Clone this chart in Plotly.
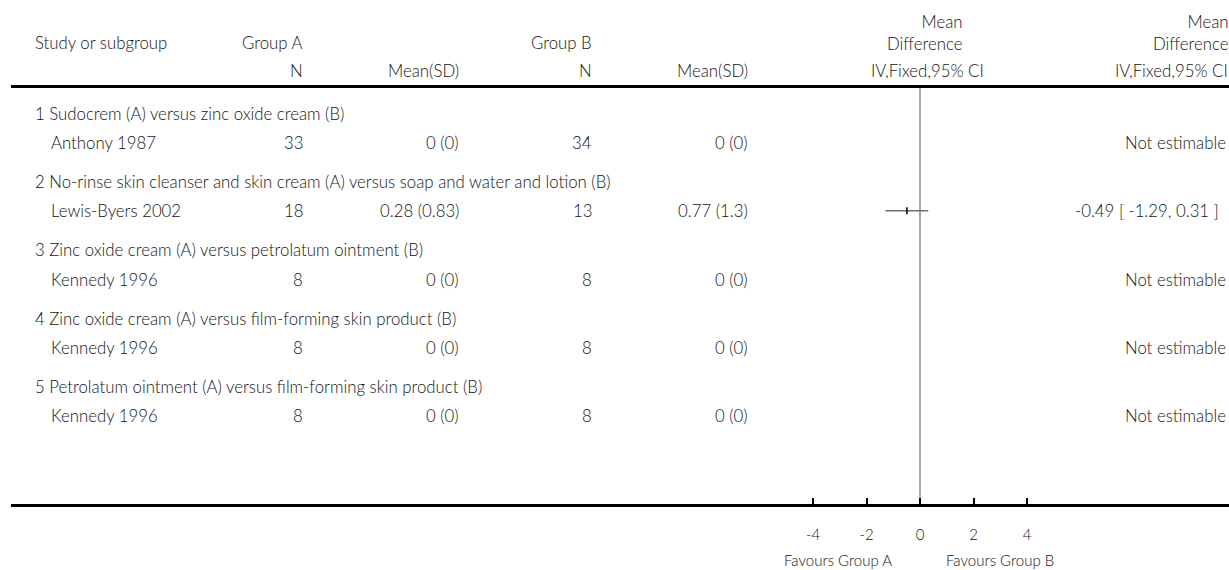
import plotly.graph_objects as go

# ---- data -------------------------------------------------------------
subgroups = [
    "1 Sudocrem (A) versus zinc oxide cream (B)",
    "2 No-rinse skin cleanser and skin cream (A) versus soap and water and lotion (B)",
    "3 Zinc oxide cream (A) versus petrolatum ointment (B)",
    "4 Zinc oxide cream (A) versus film-forming skin product (B)",
    "5 Petrolatum ointment (A) versus film-forming skin product (B)",
]
studies = ["Anthony 1987", "Lewis-Byers 2002", "Kennedy 1996", "Kennedy 1996", "Kennedy 1996"]
n_a = [33, 18, 8, 8, 8]
mean_sd_a = ["0 (0)", "0.28 (0.83)", "0 (0)", "0 (0)", "0 (0)"]
n_b = [34, 13, 8, 8, 8]
mean_sd_b = ["0 (0)", "0.77 (1.3)", "0 (0)", "0 (0)", "0 (0)"]
md = [None, -0.49, None, None, None]
ci_low = [None, -1.29, None, None, None]
ci_high = [None, 0.31, None, None, None]
tick_values = [-4, -2, 0, 2, 4]
tick_labels = ["-4", "-2", "0", "2", "4"]

# ---- page geometry ----------------------------------------------------
W, H = 1229, 570
FONT = "Lato"
TXT = "#141414"
SIZE = 16.8
SMALL = 15


def px(x):
    return x / W


def py(y):
    return 1 - y / H


# each subgroup takes a heading line and a study line
head_y = [7 * i for i in range(len(subgroups))]
study_y = [7 * i + 3 for i in range(len(subgroups))]

fig = go.Figure()

# confidence intervals with point estimates
est_x, est_y, err_plus, err_minus = [], [], [], []
for i in range(len(studies)):
    if md[i] is not None:
        est_x.append(md[i])
        est_y.append(study_y[i])
        err_plus.append(ci_high[i] - md[i])
        err_minus.append(md[i] - ci_low[i])

fig.add_trace(go.Scatter(
    x=est_x, y=est_y, mode="markers",
    marker=dict(symbol="line-ns", size=5, color="black",
                line=dict(color="black", width=1.5)),
    error_x=dict(type="data", symmetric=False, array=err_plus,
                 arrayminus=err_minus, color="#6e6e6e", thickness=1.5, width=0),
    hoverinfo="skip", showlegend=False,
))

ann = []


def text(s, x, y, anchor="left", yref="y", size=SIZE, align=None):
    ann.append(dict(
        text=s, x=px(x), xref="paper", y=y, yref=yref,
        xanchor=anchor, yanchor="middle", showarrow=False,
        align=align or anchor,
        font=dict(family=FONT, size=size, color=TXT, weight=300),
    ))


# column headers
text("Study or subgroup", 33, py(42), yref="paper")
text("Group A", 305, py(42), "right", yref="paper")
text("Group B", 594, py(42), "right", yref="paper")
text("N", 305, py(71), "right", yref="paper")
text("Mean(SD)", 461, py(71), "right", yref="paper")
text("N", 594, py(71), "right", yref="paper")
text("Mean(SD)", 750, py(71), "right", yref="paper")
text("Mean<br>Difference", 964, py(33), "right", yref="paper")
text("IV,Fixed,95% CI", 986, py(71), "right", yref="paper")
text("Mean<br>Difference", 1230, py(33), "right", yref="paper")
text("IV,Fixed,95% CI", 1230, py(71), "right", yref="paper")

# rows
for i in range(len(subgroups)):
    text(subgroups[i], 33, head_y[i])
    text(studies[i], 49, study_y[i])
    text(str(n_a[i]), 305, study_y[i], "right")
    text(mean_sd_a[i], 461, study_y[i], "right")
    text(str(n_b[i]), 594, study_y[i], "right")
    text(mean_sd_b[i], 750, study_y[i], "right")
    if md[i] is None:
        text("Not estimable", 1228, study_y[i], "right")
    else:
        text(f"{md[i]:.2f} [ {ci_low[i]:.2f}, {ci_high[i]:.2f} ]",
             1221, study_y[i], "right")

# favours labels under the axis
text("Favours Group A", 838, py(560), "center", yref="paper", size=SMALL)
text("Favours Group B", 1000, py(560), "center", yref="paper", size=SMALL)

# x axis: 0 sits at x=920 px, 26.75 px per unit
zero_px, unit_px, left_px = 920, 26.75, 11
x_range = [-(zero_px - left_px) / unit_px, (W - zero_px) / unit_px]

fig.update_layout(
    width=W, height=H,
    margin=dict(l=0, r=0, t=0, b=0),
    paper_bgcolor="white", plot_bgcolor="white",
    annotations=ann,
    xaxis=dict(
        domain=[px(left_px), 1], range=x_range,
        tickvals=tick_values, ticktext=tick_labels,
        ticks="inside", ticklen=6, tickwidth=2, tickcolor="black",
        ticklabelstandoff=15,
        tickfont=dict(family=FONT, size=SMALL, color=TXT, weight=300),
        showline=True, linewidth=3, linecolor="black", mirror=True,
        showgrid=False, zeroline=True, zerolinecolor="#a8a8a8",
        zerolinewidth=1.5, fixedrange=True,
    ),
    yaxis=dict(
        domain=[py(504), py(88)], range=[40.02, -2.56],
        showticklabels=False, showgrid=False, zeroline=False,
        showline=False, ticks="", fixedrange=True,
    ),
)

fig.write_html("out.html")
